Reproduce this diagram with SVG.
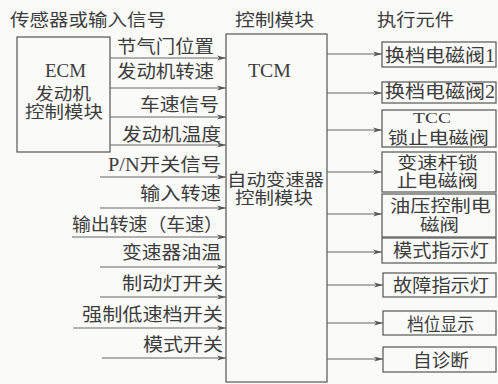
<svg xmlns="http://www.w3.org/2000/svg" width="498" height="384" viewBox="0 0 498 384">
<defs>
<marker id="ah" markerWidth="10" markerHeight="6" refX="9" refY="3" orient="auto" markerUnits="userSpaceOnUse">
<path d="M0,0.6 L9,3 L0,5.4 L2.5,3 z" fill="#555"/>
</marker>
<style>
.t{font-family:"Liberation Serif","Noto Sans CJK SC",serif;font-size:18px;fill:#3c3c3c;}
.h{font-size:17px;}
.s{font-size:16.5px;}
.box{fill:none;stroke:#555;stroke-width:1.2;}
.ln{stroke:#666;stroke-width:1;fill:none;marker-end:url(#ah);}
</style>
</defs>
<rect width="498" height="384" fill="#fafaf8"/>
<g id="headers">
<text class="t h" x="10" y="26" textLength="156" lengthAdjust="spacingAndGlyphs">传感器或输入信号</text>
<text class="t h" x="235" y="26" textLength="79" lengthAdjust="spacingAndGlyphs">控制模块</text>
<text class="t h" x="377" y="26" textLength="77" lengthAdjust="spacingAndGlyphs">执行元件</text>
</g>
<g id="ecm">
<rect class="box" x="17" y="37" width="93" height="115"/>
<text class="t" x="45" y="77" textLength="41" lengthAdjust="spacingAndGlyphs">ECM</text>
<text class="t s" x="35" y="100" textLength="56" lengthAdjust="spacingAndGlyphs">发动机</text>
<text class="t s" x="25" y="118" textLength="78" lengthAdjust="spacingAndGlyphs">控制模块</text>
</g>
<g id="tcm">
<rect class="box" x="226" y="34" width="101" height="348"/>
<text class="t" x="248" y="77" textLength="43" lengthAdjust="spacingAndGlyphs">TCM</text>
<text class="t s" x="227" y="186" textLength="97" lengthAdjust="spacingAndGlyphs">自动变速器</text>
<text class="t s" x="235" y="204" textLength="78" lengthAdjust="spacingAndGlyphs">控制模块</text>
</g>
<g id="connectors">
<line class="ln" x1="110" y1="58" x2="226" y2="58"/>
<line class="ln" x1="110" y1="88" x2="226" y2="88"/>
<line class="ln" x1="110" y1="117" x2="226" y2="117"/>
<line class="ln" x1="110" y1="145" x2="226" y2="145"/>
<line class="ln" x1="100" y1="177" x2="226" y2="177"/>
<line class="ln" x1="100" y1="208" x2="226" y2="208"/>
<line class="ln" x1="72" y1="237" x2="226" y2="237"/>
<line class="ln" x1="100" y1="267" x2="226" y2="267"/>
<line class="ln" x1="100" y1="297" x2="226" y2="297"/>
<line class="ln" x1="73" y1="328" x2="226" y2="328"/>
<line class="ln" x1="102" y1="358" x2="226" y2="358"/>
<line class="ln" x1="327" y1="54" x2="382" y2="54"/>
<line class="ln" x1="327" y1="93" x2="382" y2="93"/>
<line class="ln" x1="327" y1="130" x2="382" y2="130"/>
<line class="ln" x1="327" y1="172" x2="382" y2="172"/>
<line class="ln" x1="327" y1="214" x2="382" y2="214"/>
<line class="ln" x1="327" y1="252" x2="382" y2="252"/>
<line class="ln" x1="327" y1="285" x2="383" y2="285"/>
<line class="ln" x1="327" y1="323" x2="383" y2="323"/>
<line class="ln" x1="327" y1="359" x2="383" y2="359"/>
</g>
<g id="input-labels">
<text class="t" x="117" y="53" textLength="97" lengthAdjust="spacingAndGlyphs">节气门位置</text>
<text class="t" x="117" y="78" textLength="97" lengthAdjust="spacingAndGlyphs">发动机转速</text>
<text class="t" x="140" y="111" textLength="79" lengthAdjust="spacingAndGlyphs">车速信号</text>
<text class="t" x="122" y="141" textLength="99" lengthAdjust="spacingAndGlyphs">发动机温度</text>
<text class="t" x="108" y="171" textLength="113" lengthAdjust="spacingAndGlyphs">P/N开关信号</text>
<text class="t" x="140" y="200" textLength="81" lengthAdjust="spacingAndGlyphs">输入转速</text>
<text class="t" x="72" y="231" textLength="151" lengthAdjust="spacingAndGlyphs">输出转速（车速）</text>
<text class="t" x="122" y="259" textLength="99" lengthAdjust="spacingAndGlyphs">变速器油温</text>
<text class="t" x="122" y="290" textLength="101" lengthAdjust="spacingAndGlyphs">制动灯开关</text>
<text class="t" x="82" y="321" textLength="141" lengthAdjust="spacingAndGlyphs">强制低速档开关</text>
<text class="t" x="143" y="351" textLength="80" lengthAdjust="spacingAndGlyphs">模式开关</text>
</g>
<g id="out1"><rect class="box" x="382" y="42" width="114" height="25"/><text class="t" x="385" y="62" textLength="110" lengthAdjust="spacingAndGlyphs">换档电磁阀1</text></g>
<g id="out2"><rect class="box" x="382" y="82" width="114" height="21"/><text class="t" x="385" y="98" textLength="110" lengthAdjust="spacingAndGlyphs">换档电磁阀2</text></g>
<g id="out3"><rect class="box" x="382" y="110" width="114" height="37"/><text class="t" x="413" y="123" style="font-size:15px" textLength="38" lengthAdjust="spacingAndGlyphs">TCC</text><text class="t s" x="388" y="144" textLength="101" lengthAdjust="spacingAndGlyphs">锁止电磁阀</text></g>
<g id="out4"><rect class="box" x="382" y="152" width="114" height="40"/><text class="t s" x="397" y="169" textLength="81" lengthAdjust="spacingAndGlyphs">变速杆锁</text><text class="t s" x="397" y="187" textLength="81" lengthAdjust="spacingAndGlyphs">止电磁阀</text></g>
<g id="out5"><rect class="box" x="382" y="194" width="114" height="43"/><text class="t s" x="390" y="212" textLength="101" lengthAdjust="spacingAndGlyphs">油压控制电</text><text class="t s" x="420" y="231" textLength="39" lengthAdjust="spacingAndGlyphs">磁阀</text></g>
<g id="out6"><rect class="box" x="382" y="238" width="114" height="25"/><text class="t" x="393" y="257" textLength="96" lengthAdjust="spacingAndGlyphs">模式指示灯</text></g>
<g id="out7"><rect class="box" x="383" y="273" width="113" height="24"/><text class="t" x="393" y="292" textLength="96" lengthAdjust="spacingAndGlyphs">故障指示灯</text></g>
<g id="out8"><rect class="box" x="383" y="311" width="113" height="24"/><text class="t" x="407" y="331" textLength="67" lengthAdjust="spacingAndGlyphs">档位显示</text></g>
<g id="out9"><rect class="box" x="383" y="347" width="113" height="25"/><text class="t" x="413" y="367" textLength="56" lengthAdjust="spacingAndGlyphs">自诊断</text></g>
</svg>
